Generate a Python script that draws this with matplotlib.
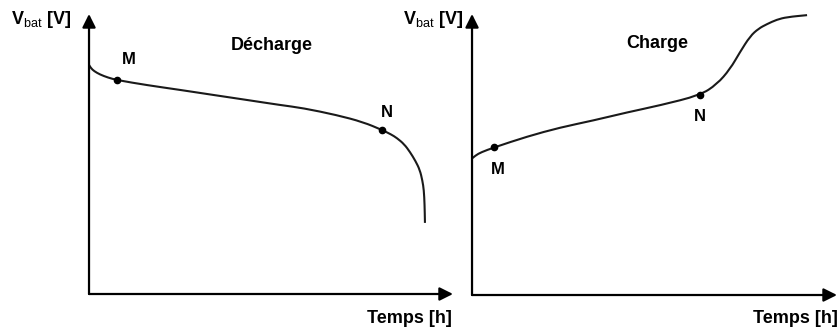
import matplotlib
matplotlib.use('Agg')
import matplotlib.pyplot as plt
from matplotlib.path import Path
from matplotlib.patches import PathPatch

plt.rcParams['font.family'] = 'Liberation Sans'
plt.rcParams['mathtext.fontset'] = 'custom'
plt.rcParams['mathtext.rm'] = 'Liberation Sans'
plt.rcParams['mathtext.bf'] = 'Liberation Sans:bold'

# -----------------------------
# Data (time in h, voltage in arbitrary units)
# -----------------------------
dis_t = [0.0, 0.05, 0.14, 0.30, 0.52, 0.77, 1.59, 2.50, 3.41, 4.34, 5.25, 5.88,
         6.81, 7.53, 8.05, 8.30, 8.46, 8.66, 8.82, 8.97, 9.09, 9.16, 9.20,
         9.22, 9.23]
dis_v = [8.18, 8.07, 7.96, 7.84, 7.73, 7.64, 7.46, 7.29, 7.11, 6.93, 6.75, 6.64,
         6.39, 6.14, 5.86, 5.70, 5.57, 5.35, 5.07, 4.75, 4.43, 4.05, 3.71,
         3.20, 2.54]
dis_M = (0.77, 7.64)
dis_N = (8.05, 5.86)

chg_t = [0.0, 0.10, 0.25, 0.60, 1.51, 2.41, 3.32, 4.25, 5.15, 6.25, 6.71, 7.07,
         7.34, 7.62, 7.85, 8.08, 8.35, 8.63, 9.18]
chg_v = [4.86, 4.97, 5.08, 5.25, 5.64, 5.96, 6.21, 6.50, 6.75, 7.11, 7.50, 8.04,
         8.64, 9.21, 9.48, 9.64, 9.80, 9.89, 9.96]
chg_M = (0.60, 5.25)
chg_N = (6.25, 7.11)

fig = plt.figure(figsize=(8.39, 3.36), dpi=100)
ax1 = fig.add_axes([0.1061, 0.125, 0.4338, 0.8333])
ax2 = fig.add_axes([0.5626, 0.122, 0.4350, 0.8363])

vlabel = r'$\mathbf{V}_{\mathrm{bat}}$ [V]'


def draw_axes(ax):
    ax.set_xlim(0, 10)
    ax.set_ylim(0, 10)
    for s in ax.spines.values():
        s.set_visible(False)
    ax.set_xticks([])
    ax.set_yticks([])
    arrow = dict(arrowstyle='-|>', color='black', lw=1.6, mutation_scale=20,
                 shrinkA=0, shrinkB=0)
    ax.annotate('', xy=(1, 0), xytext=(0, 0), xycoords='axes fraction',
                arrowprops=arrow, annotation_clip=False)
    ax.annotate('', xy=(0, 1), xytext=(0, 0), xycoords='axes fraction',
                arrowprops=arrow, annotation_clip=False)


def smooth_curve(ax, xs, ys):
    # quadratic bezier pieces through the midpoints, drawn by matplotlib
    pts = list(zip(xs, ys))
    verts = [pts[0]]
    codes = [Path.MOVETO]
    for i in range(1, len(pts) - 1):
        mid = ((pts[i][0] + pts[i + 1][0]) / 2, (pts[i][1] + pts[i + 1][1]) / 2)
        verts += [pts[i], mid]
        codes += [Path.CURVE3, Path.CURVE3]
    verts.append(pts[-1])
    codes.append(Path.LINETO)
    ax.add_patch(PathPatch(Path(verts, codes), facecolor='none',
                           edgecolor='#1a1a1a', lw=1.5))


# Décharge
draw_axes(ax1)
smooth_curve(ax1, dis_t, dis_v)
ax1.plot(*dis_M, 'o', color='black', ms=4.5)
ax1.plot(*dis_N, 'o', color='black', ms=4.5)
ax1.text(1.10, 8.36, 'M', fontsize=12, fontweight='bold', ha='center', va='center')
ax1.text(8.19, 6.50, 'N', fontsize=12, fontweight='bold', ha='center', va='center')
ax1.text(5.03, 8.86, 'Décharge', fontsize=13, fontweight='bold', ha='center', va='center')
ax1.text(-0.5, 9.82, vlabel, fontsize=13, fontweight='bold', ha='right', va='center',
         clip_on=False)
ax1.text(9.97, -0.86, 'Temps [h]', fontsize=13, fontweight='bold', ha='right',
         va='center', clip_on=False)

# Charge
draw_axes(ax2)
smooth_curve(ax2, chg_t, chg_v)
ax2.plot(*chg_M, 'o', color='black', ms=4.5)
ax2.plot(*chg_N, 'o', color='black', ms=4.5)
ax2.text(0.71, 4.46, 'M', fontsize=12, fontweight='bold', ha='center', va='center')
ax2.text(6.25, 6.36, 'N', fontsize=12, fontweight='bold', ha='center', va='center')
ax2.text(5.07, 8.96, 'Charge', fontsize=13, fontweight='bold', ha='center', va='center')
ax2.text(-0.25, 9.82, vlabel, fontsize=13, fontweight='bold', ha='right', va='center',
         clip_on=False)
ax2.text(10.03, -0.82, 'Temps [h]', fontsize=13, fontweight='bold', ha='right',
         va='center', clip_on=False)

fig.savefig('out.png', dpi=100)
